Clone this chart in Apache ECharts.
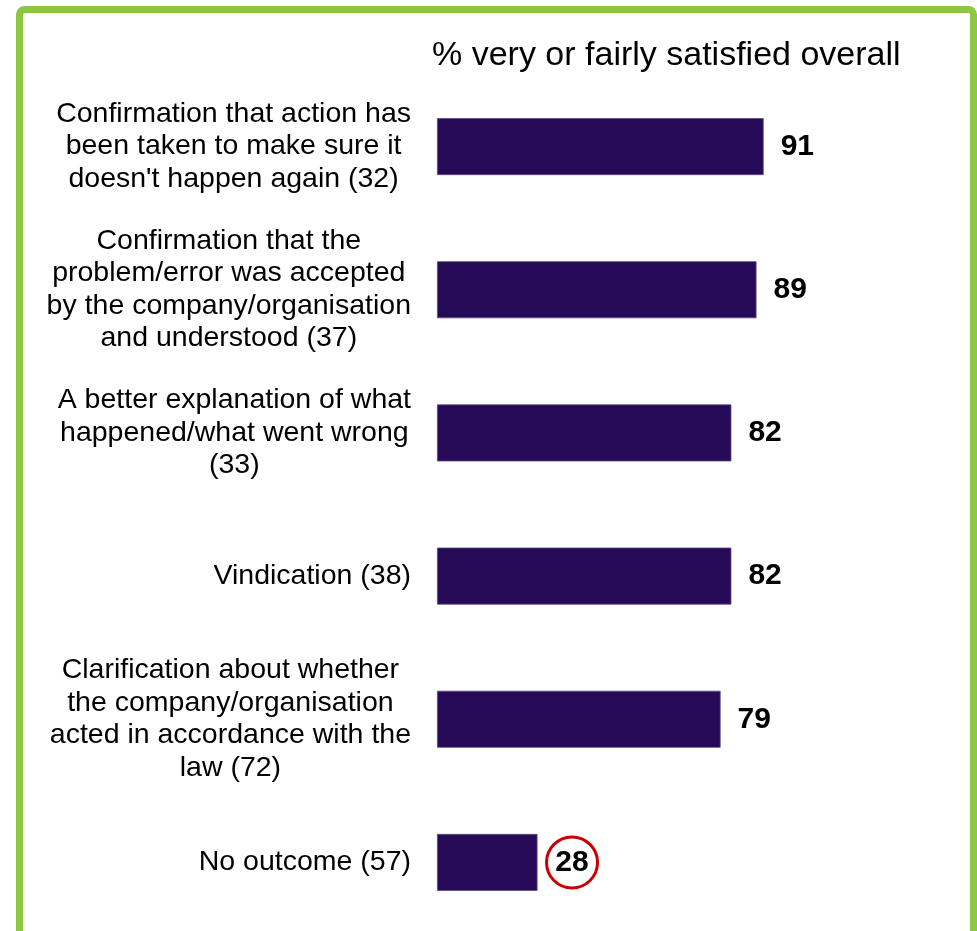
<!DOCTYPE html>
<html>
<head>
<meta charset="utf-8">
<script src="https://cdn.jsdelivr.net/npm/echarts@6/dist/echarts.min.js"></script>
<style>
html,body{margin:0;padding:0;background:#fff;overflow:hidden;}
#chart{width:977px;height:1000px;}
</style>
</head>
<body>
<div id="chart"></div>
<script>
const titleText = '% very or fairly satisfied overall';
const categories = [
  "Confirmation that action has\nbeen taken to make sure it\ndoesn't happen again (32)",
  "Confirmation that the\nproblem/error was accepted\nby the company/organisation\nand understood (37)",
  "A better explanation of what\nhappened/what went wrong\n(33)",
  "Vindication (38)",
  "Clarification about whether\nthe company/organisation\nacted in accordance with the\nlaw (72)",
  "No outcome (57)"
];
const values = [91, 89, 82, 82, 79, 28];
const circledIndex = 5;

const chart = echarts.init(document.getElementById('chart'), null, {renderer: 'canvas'});

const data = values.map((v, i) => i === circledIndex ? {
  value: v,
  label: {
    distance: 9,
    formatter: '{circ|{c}}',
    rich: {
      circ: {
        width: 51, height: 51, lineHeight: 51,
        borderRadius: 26,
        borderColor: '#cc0000', borderWidth: 3,
        align: 'center', verticalAlign: 'middle',
        fontSize: 30, fontWeight: 'bold', color: '#000',
        fontFamily: 'Liberation Sans, Arial, sans-serif'
      }
    }
  }
} : v);

chart.setOption({
  animation: false,
  backgroundColor: '#fff',
  title: {
    text: titleText,
    left: 427, top: 34,
    textStyle: {fontSize: 34, fontWeight: 'normal', color: '#000', fontFamily: 'Liberation Sans, Arial, sans-serif'}
  },
  graphic: [{
    type: 'rect', z: 100, silent: true,
    shape: {x: 19.5, y: 9.5, width: 954, height: 1100, r: 5},
    style: {fill: 'none', stroke: '#8dc63f', lineWidth: 7}
  }],
  grid: {left: 437, width: 359, top: 75, height: 859, containLabel: false},
  xAxis: {type: 'value', min: 0, max: 100, show: false},
  yAxis: {
    type: 'category', data: categories, inverse: true,
    axisLine: {show: false}, axisTick: {show: false}, splitLine: {show: false},
    axisLabel: {
      margin: 26, align: 'right', color: '#000',
      formatter: (val) => val.split('\n').map(l => '{c|' + l + '}').join('\n'),
      rich: {c: {align: 'center', fontSize: 28.5, lineHeight: 32.5, color: '#000', fontFamily: 'Liberation Sans, Arial, sans-serif'}}
    }
  },
  series: [{
    type: 'bar', data: data, barWidth: 57,
    itemStyle: {color: '#270a57', borderColor: '#5b4b8c', borderWidth: 0.8},
    label: {
      show: true, position: 'right', distance: 17,
      fontSize: 30, fontWeight: 'bold', color: '#000',
      fontFamily: 'Liberation Sans, Arial, sans-serif'
    }
  }]
});
</script>
</body>
</html>
